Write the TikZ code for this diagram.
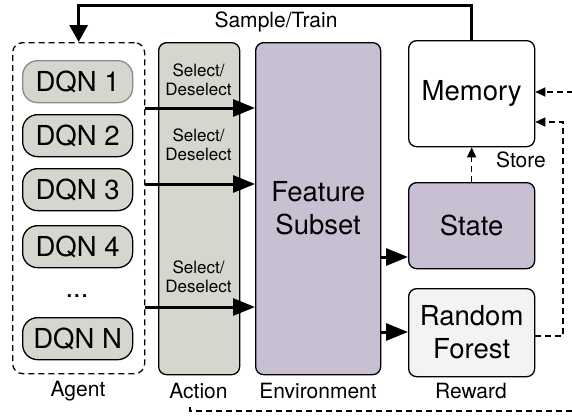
\documentclass[tikz,border=0pt]{standalone}
\usepackage{fontspec}
\setmainfont{TeX Gyre Heros}
\usetikzlibrary{arrows.meta}
\definecolor{grayfill}{HTML}{D6D6CE}
\definecolor{purplefill}{HTML}{C8BFD3}
\definecolor{rffill}{HTML}{F3F3F3}
\definecolor{dqnborder}{HTML}{8A8A8A}
\begin{document}
\begin{tikzpicture}[x=1pt,y=-1pt,
  box/.style={draw, line width=1.3pt, rounded corners=8pt, anchor=north west, inner sep=0pt, align=center, font=\fontsize{27.5}{33}\selectfont},
  dqn/.style={draw, line width=1.3pt, rounded corners=15pt, fill=grayfill, minimum width=110pt, minimum height=42pt, anchor=north west, inner sep=0pt, font=\fontsize{27.5}{30}\selectfont},
  lbl/.style={font=\fontsize{21}{24}\selectfont, inner sep=0pt},
  sel/.style={font=\fontsize{17}{19}\selectfont, align=center, inner sep=0pt},
  bigarrow/.style={line width=3pt, -{Triangle[length=22pt,width=17pt]}},
  toparrow/.style={line width=3pt, -{Triangle[length=17pt,width=18pt]}},
  dashline/.style={line width=1.4pt, dash pattern=on 6pt off 4pt},
  dasharrow/.style={dashline, -{Triangle[length=10pt,width=9pt]}},
]
\useasboundingbox (0,0) rectangle (572,416);
\clip (0,0) rectangle (572,416);

% containers
\node[draw, line width=1.3pt, dash pattern=on 6pt off 4pt, rounded corners=10pt, minimum width=132pt, minimum height=331pt, anchor=north west, inner sep=0pt] (agent) at (12,42) {};
\node[box, fill=grayfill, minimum width=81pt, minimum height=332pt] (action) at (158,42) {};
\node[box, fill=purplefill, minimum width=125pt, minimum height=332pt] (env) at (255,42) {Feature\\Subset};
\node[box, fill=white, minimum width=126pt, minimum height=106pt] (memory) at (408,40) {Memory};
\node[box, fill=purplefill, minimum width=126pt, minimum height=86pt] (state) at (408,182) {State};
\node[box, fill=rffill, minimum width=126pt, minimum height=88pt] (rf) at (408,288) {Random\\Forest};

% DQNs
\node[dqn, draw=dqnborder] (d1) at (22,60) {DQN 1};
\node[dqn] (d2) at (22,114) {DQN 2};
\node[dqn] (d3) at (22,168) {DQN 3};
\node[dqn] (d4) at (22,225) {DQN 4};
\node[anchor=base, inner sep=0pt, font=\fontsize{27.5}{30}\selectfont] (dots) at (77,297) {...};
\node[dqn] (dn) at (22,317) {DQN N};

% select labels
\node[sel] (s1) at (198.5,80) {Select/\\Deselect};
\node[sel] (s2) at (198.5,145) {Select/\\Deselect};
\node[sel] (s3) at (198.5,277) {Select/\\Deselect};

% bottom labels
\node[lbl] (lagent) at (78,391) {Agent};
\node[lbl] (laction) at (198.5,391) {Action};
\node[lbl] (lenv) at (318,391) {Environment};
\node[lbl] (lreward) at (471,391) {Reward};
\node[lbl] (lstore) at (521,160) {Store};
\node[lbl] (lsample) at (276,22) {Sample/Train};

% coordinates
\coordinate (a1) at (0,108);
\coordinate (a2) at (0,184);
\coordinate (a3) at (0,307);
\coordinate (e1) at (0,257);
\coordinate (e2) at (0,332);
\coordinate (top) at (0,5);
\coordinate (r1) at (563,336);
\coordinate (m1) at (0,92);
\coordinate (m2) at (0,122);
\coordinate (b0) at (190,407);
\coordinate (b1) at (190,411);
\coordinate (b2) at (580,411);

% action arrows
\draw[bigarrow] (agent.east |- a1) -- (env.west |- a1);
\draw[bigarrow] (agent.east |- a2) -- (env.west |- a2);
\draw[bigarrow] (agent.east |- a3) -- (env.west |- a3);

% env arrows
\draw[bigarrow] (env.east |- e1) -- (state.west |- e1);
\draw[bigarrow] (env.east |- e2) -- (rf.west |- e2);

% sample/train
\draw[toparrow] (memory.north) -- (memory.north |- top) -- (agent.north |- top) -- (agent.north);

% store
\draw[dasharrow] (state.north) -- (memory.south);

% reward to memory
\draw[dasharrow] (rf.east |- r1) -- (r1) -- (r1 |- m2) -- (memory.east |- m2);

% bottom loop to memory
\draw[dasharrow] (b0) -- (b1) -- (b2) -- (b2 |- m1) -- (memory.east |- m1);
\end{tikzpicture}
\end{document}
